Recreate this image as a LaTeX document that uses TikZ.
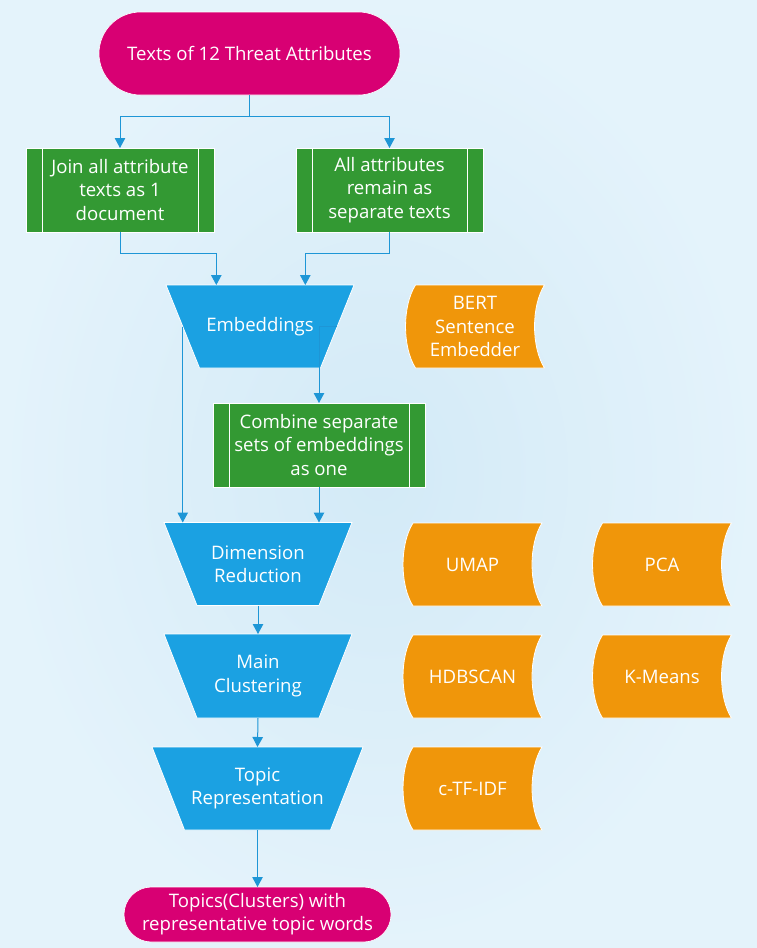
\documentclass[tikz,border=0pt]{standalone}
\usepackage{fontspec}
\setmainfont{Open Sans}
\usetikzlibrary{arrows.meta,backgrounds,calc,shapes.misc}
\definecolor{bgin}{HTML}{D3EAF7}
\definecolor{bgout}{HTML}{E4F3FB}
\definecolor{magentaF}{HTML}{D80073}
\definecolor{greenF}{HTML}{339933}
\definecolor{blueF}{HTML}{1BA1E2}
\definecolor{orangeF}{HTML}{F0960A}
\definecolor{lineC}{HTML}{1E96D6}
\tikzset{
  txt/.style={text=white, align=center, font=\fontsize{18.6}{23.3}\selectfont, inner sep=0pt, outer sep=0pt, rectangle},
  termbox/.style={txt, fill=magentaF, draw=white, line width=0.6pt, rounded rectangle},
  conn/.style={draw=lineC, line width=1pt, -{Triangle[width=10.5pt,length=10pt]}},
  edgeW/.style={draw=white, line width=0.8pt},
}
\begin{document}
\begin{tikzpicture}[x=1pt,y=-1pt]
\useasboundingbox (0,0) rectangle (757,948);

% terminals
\node[termbox, minimum width=301pt, minimum height=83pt] (start) at (249.5,53.5) {Texts of 12 Threat Attributes};
\node[termbox, minimum width=267pt, minimum height=55pt] (end) at (257.5,914.5) {Topics(Clusters) with\\representative topic words};

% process boxes
\node[txt, minimum width=188pt, minimum height=84pt] (join) at (120,190) {Join all attribute\\texts as 1\\document};
\node[txt, minimum width=187pt, minimum height=84pt] (sep) at (389.5,190) {All attributes\\remain as\\separate texts};
\node[txt, minimum width=212pt, minimum height=84pt] (comb) at (319,445) {Combine separate\\sets of embeddings\\as one};

% trapezoids
\node[txt, minimum width=188pt, minimum height=83pt] (emb) at (260,326.5) {Embeddings};
\node[txt, minimum width=188pt, minimum height=83pt] (dr) at (258,564) {Dimension\\Reduction};
\node[txt, minimum width=188pt, minimum height=84pt] (mc) at (258,676) {Main\\Clustering};
\node[txt, minimum width=211pt, minimum height=83pt] (tr) at (257.5,788.5) {Topic\\Representation};

% stored data
\node[txt, minimum width=139pt, minimum height=83pt] (bert) at (475,326.5) {BERT\\Sentence\\Embedder};
\node[txt, minimum width=139pt, minimum height=83pt] (umap) at (472.5,564.5) {UMAP};
\node[txt, minimum width=139pt, minimum height=83pt] (pca) at (662,564.5) {PCA};
\node[txt, minimum width=139pt, minimum height=83pt] (hdb) at (472.5,676.5) {HDBSCAN};
\node[txt, minimum width=139pt, minimum height=83pt] (km) at (662,676.5) {K-Means};
\node[txt, minimum width=139pt, minimum height=83pt] (ctf) at (472.5,788.5) {c-TF-IDF};

\begin{pgfonlayer}{background}
  \shade[inner color=bgin, outer color=bgout] (0,0) rectangle (757,948);
  % process box fills
  \foreach \n in {join,sep,comb}{
    \fill[greenF] (\n.north west) rectangle (\n.south east);
    \draw[edgeW] (\n.north west) rectangle (\n.south east);
    \draw[edgeW] ([xshift=16pt]\n.north west) -- ([xshift=16pt]\n.south west);
    \draw[edgeW] ([xshift=-16pt]\n.north east) -- ([xshift=-16pt]\n.south east);
  }
  % trapezoids
  \foreach \n/\d in {emb/33.5,dr/33,mc/33,tr/32.5}{
    \filldraw[fill=blueF, edgeW] (\n.north west) -- (\n.north east) -- ([xshift=-\d pt]\n.south east) -- ([xshift=\d pt]\n.south west) -- cycle;
  }
  % stored data shapes
  \foreach \n in {bert,umap,pca,hdb,km,ctf}{
    \filldraw[fill=orangeF, edgeW]
      ([xshift=10pt]\n.north west) -- (\n.north east)
      .. controls ([xshift=-13.3pt,yshift=-21pt]\n.north east) and ([xshift=-13.3pt,yshift=21pt]\n.south east) .. (\n.south east)
      -- ([xshift=10pt]\n.south west)
      .. controls ([xshift=-3.3pt,yshift=21pt]\n.south west) and ([xshift=-3.3pt,yshift=-21pt]\n.north west) .. ([xshift=10pt]\n.north west) -- cycle;
  }
\end{pgfonlayer}

% connectors
\draw[conn] (start.south) -- ++(0,21) -| (join.north);
\draw[conn] (start.south) -- ++(0,21) -| (sep.north);
\draw[conn] (join.south) -- ++(0,21.5) -| ([xshift=-43.7pt]emb.north);
\draw[conn] (sep.south) -- ++(0,21.5) -| ([xshift=45.3pt]emb.north);
\draw[conn] ([xshift=16.75pt]emb.west) -- ([xshift=16.75pt]emb.west |- dr.north);
\draw[conn] ([xshift=-16.75pt]emb.east) -| (comb.north);
\draw[conn] (comb.south) -- (comb.south |- dr.north);
\draw[conn] (dr.south) -- (mc.north);
\draw[conn] (mc.south) -- (tr.north);
\draw[conn] (tr.south) -- (end.north);
\end{tikzpicture}
\end{document}
